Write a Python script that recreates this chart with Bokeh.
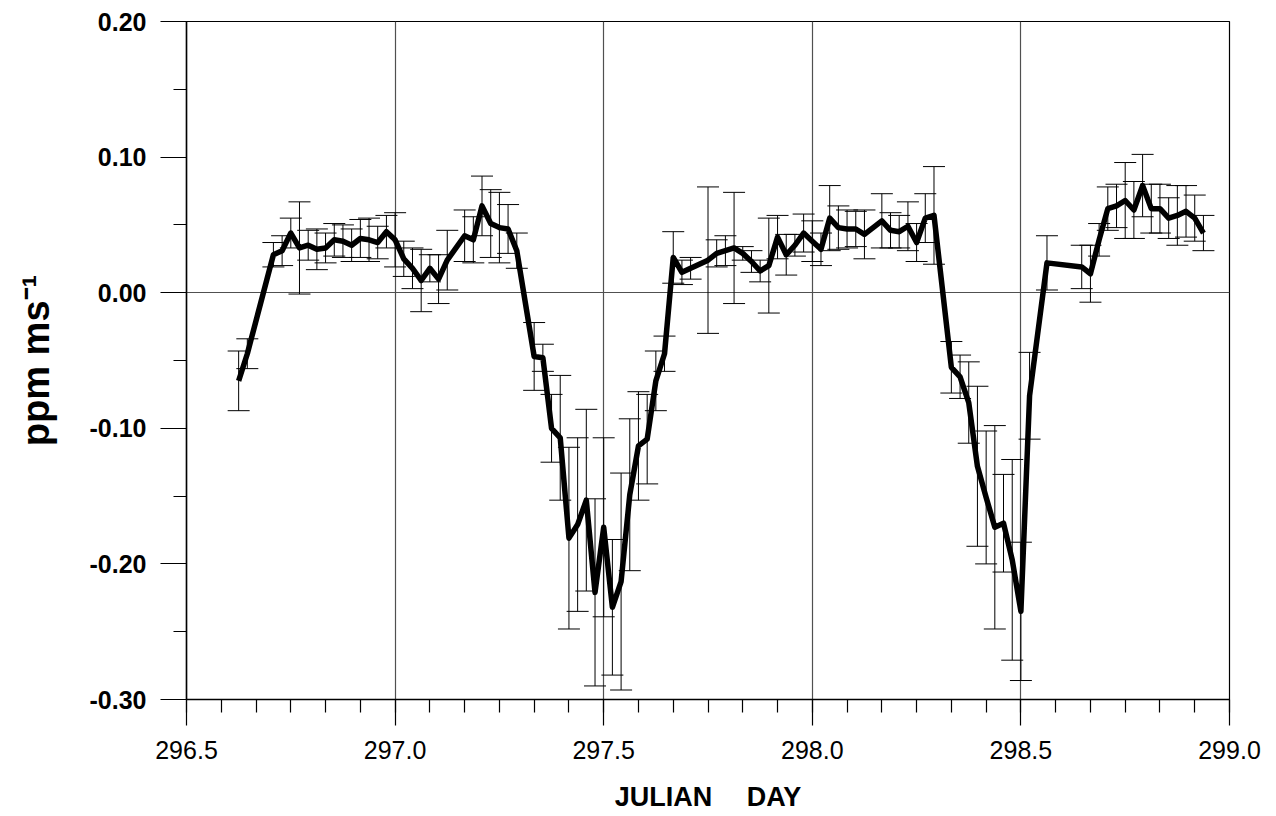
import numpy as np
from bokeh.plotting import figure
from bokeh.models import (ColumnDataSource, Whisker, TeeHead, FixedTicker,
                          Range1d, CustomJSTickFormatter)
from bokeh.embed import file_html
from bokeh.resources import INLINE

# ---- data ----
julian_day = [
    296.6250, 296.6458,
    296.7083, 296.7292, 296.7500, 296.7708, 296.7917, 296.8125, 296.8333, 296.8542,
    296.8750, 296.8958, 296.9167, 296.9375, 296.9583, 296.9792, 297.0000, 297.0208,
    297.0417, 297.0625, 297.0833, 297.1042, 297.1250,
    297.1667, 297.1875, 297.2083, 297.2292, 297.2500, 297.2708, 297.2917,
    297.3333, 297.3542, 297.3750, 297.3958, 297.4167, 297.4375, 297.4583, 297.4792,
    297.5000, 297.5208, 297.5417, 297.5625, 297.5833, 297.6042, 297.6250, 297.6458,
    297.6667, 297.6875, 297.7083,
    297.7500, 297.7708, 297.7917, 297.8125, 297.8333, 297.8542, 297.8750, 297.8958,
    297.9167, 297.9375, 297.9583, 297.9792, 298.0000, 298.0208, 298.0417, 298.0625,
    298.0833, 298.1042, 298.1250,
    298.1667, 298.1875, 298.2083, 298.2292, 298.2500, 298.2708, 298.2917,
    298.3333, 298.3542, 298.3750, 298.3958, 298.4167, 298.4375, 298.4583, 298.4792,
    298.5000, 298.5208,
    298.5625,
    298.6458, 298.6667, 298.6875, 298.7083, 298.7292, 298.7500, 298.7708, 298.7917,
    298.8125, 298.8333, 298.8542, 298.8750, 298.8958, 298.9167, 298.9375,
]

ppm_ms = [
    -0.065, -0.045,
    0.028, 0.031, 0.044, 0.033, 0.035, 0.032, 0.033, 0.039,
    0.038, 0.035, 0.040, 0.039, 0.037, 0.045, 0.039, 0.025,
    0.018, 0.009, 0.018, 0.010, 0.024,
    0.042, 0.039, 0.064, 0.051, 0.048, 0.047, 0.031,
    -0.047, -0.048, -0.100, -0.107, -0.181, -0.171, -0.153, -0.221,
    -0.173, -0.232, -0.213, -0.149, -0.113, -0.108, -0.065, -0.045,
    0.026, 0.015, 0.018,
    0.024, 0.029, 0.031, 0.033, 0.029, 0.023, 0.016, 0.020,
    0.041, 0.028, 0.035, 0.044, 0.038, 0.032, 0.055, 0.048,
    0.047, 0.047, 0.043,
    0.053, 0.046, 0.045, 0.049, 0.037, 0.055, 0.057,
    -0.055, -0.062, -0.081, -0.128, -0.151, -0.173, -0.170, -0.197,
    -0.235, -0.076,
    0.022,
    0.019, 0.014, 0.039, 0.062, 0.064, 0.068, 0.061, 0.079,
    0.062, 0.062, 0.055, 0.057, 0.060, 0.055, 0.044,
]

ppm_err = [
    0.022, 0.011,
    0.009, 0.011, 0.011, 0.034, 0.011, 0.015, 0.011, 0.012,
    0.012, 0.012, 0.014, 0.016, 0.012, 0.012, 0.020, 0.013,
    0.015, 0.023, 0.010, 0.018, 0.022,
    0.019, 0.017, 0.022, 0.025, 0.026, 0.018, 0.013,
    0.025, 0.010, 0.025, 0.046, 0.067, 0.064, 0.067, 0.069,
    0.066, 0.050, 0.080, 0.056, 0.040, 0.033, 0.022, 0.013,
    0.019, 0.009, 0.008,
    0.054, 0.010, 0.011, 0.041, 0.005, 0.008, 0.008, 0.035,
    0.016, 0.015, 0.008, 0.014, 0.015, 0.012, 0.024, 0.016,
    0.014, 0.013, 0.018,
    0.020, 0.013, 0.012, 0.018, 0.014, 0.018, 0.036,
    0.019, 0.016, 0.030, 0.059, 0.049, 0.075, 0.036, 0.074,
    0.051, 0.032,
    0.020,
    0.016, 0.021, 0.012, 0.016, 0.016, 0.028, 0.021, 0.023,
    0.018, 0.018, 0.015, 0.022, 0.019, 0.017, 0.013,
]

x_ticks = [296.5, 297.0, 297.5, 298.0, 298.5, 299.0]
y_ticks = [-0.30, -0.20, -0.10, 0.00, 0.10, 0.20]
x_grid = [297.0, 297.5, 298.0, 298.5]
y_grid = [0.0]
x_title = "JULIAN\u2003 DAY"
y_title = "ppm ms\u207b\u00b9"

FONT = "Liberation Sans"

lower = [v - e for v, e in zip(ppm_ms, ppm_err)]
upper = [v + e for v, e in zip(ppm_ms, ppm_err)]
src = ColumnDataSource(dict(x=julian_day, y=ppm_ms, lower=lower, upper=upper))

p = figure(width=1276, height=816, output_backend="svg", toolbar_location=None,
           x_range=Range1d(296.5, 299.0), y_range=Range1d(-0.30, 0.20),
           min_border_left=186, min_border_right=47, min_border_top=21, min_border_bottom=117,
           background_fill_color="white", border_fill_color="white")

p.outline_line_color = "black"
p.outline_line_width = 1.2

# ticks
x_minor = list(np.round(np.arange(296.5, 299.0001, 1.0 / 12.0), 5))
y_minor = list(np.round(np.arange(-0.30, 0.2001, 0.05), 3))
p.xaxis.ticker = FixedTicker(ticks=x_ticks, minor_ticks=x_minor)
p.yaxis.ticker = FixedTicker(ticks=y_ticks, minor_ticks=y_minor)
p.xaxis.formatter = CustomJSTickFormatter(code="return tick.toFixed(1);")
p.yaxis.formatter = CustomJSTickFormatter(code="return tick.toFixed(2);")

for ax in (p.xaxis[0], p.yaxis[0]):
    ax.major_tick_in = 0
    ax.major_tick_out = 26
    ax.minor_tick_in = 0
    ax.minor_tick_out = 13
    ax.axis_line_color = "black"
    ax.axis_line_width = 1.5
    ax.major_tick_line_color = "black"
    ax.major_tick_line_width = 1.2
    ax.minor_tick_line_color = "black"
    ax.minor_tick_line_width = 1.2
    ax.major_label_text_font = FONT
    ax.major_label_text_font_size = "25px"
    ax.major_label_text_color = "black"
    ax.axis_label_text_font = FONT
    ax.axis_label_text_font_style = "bold"
    ax.axis_label_text_color = "black"

p.yaxis.major_label_text_font_style = "bold"
p.xaxis.major_label_text_font_style = "normal"
p.yaxis.major_label_standoff = 14
p.xaxis.major_label_standoff = 15

p.xaxis.axis_label = x_title
p.xaxis.axis_label_text_font_size = "27px"
p.xaxis.axis_label_standoff = 20
p.yaxis.axis_label = y_title
p.yaxis.axis_label_text_font_size = "38px"
p.yaxis.axis_label_standoff = 30

# grid
p.xgrid.ticker = FixedTicker(ticks=x_grid)
p.ygrid.ticker = FixedTicker(ticks=y_grid)
for g in (p.xgrid[0], p.ygrid[0]):
    g.grid_line_color = "#505050"
    g.grid_line_width = 1.2

# error bars
whisk = Whisker(source=src, base="x", lower="lower", upper="upper", dimension="height",
                line_color="black", line_width=1,
                lower_head=TeeHead(size=22, line_color="black", line_width=1),
                upper_head=TeeHead(size=22, line_color="black", line_width=1),
                level="underlay")
p.add_layout(whisk)

p.line("x", "y", source=src, line_color="black", line_width=5.5, line_join="round")

open("out.html", "w").write(file_html(p, INLINE))
